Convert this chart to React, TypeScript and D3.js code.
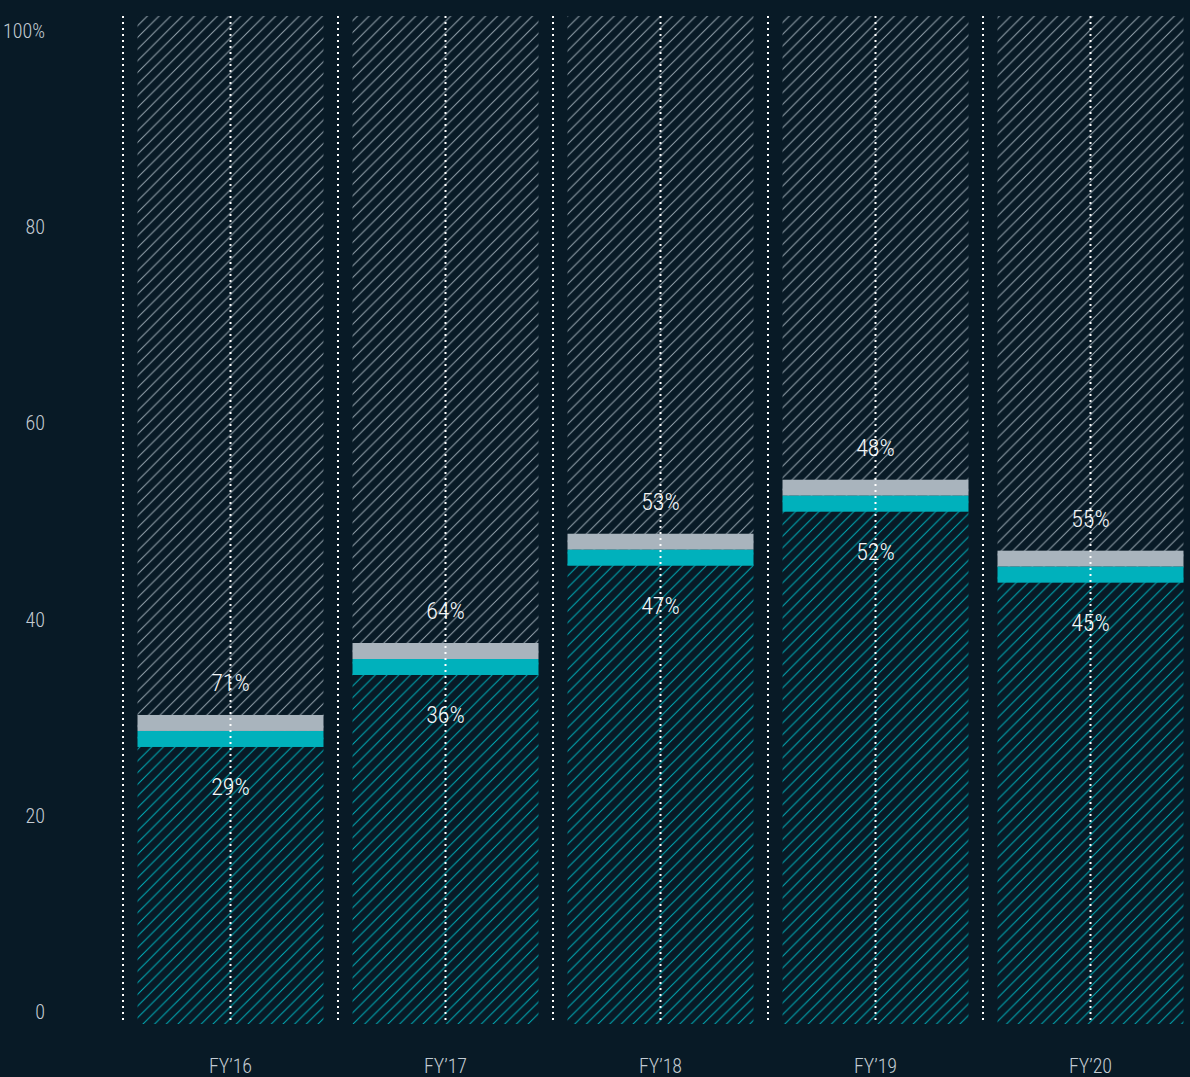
import { useEffect, useRef } from 'react';
import * as d3 from 'd3';

// Share of total per fiscal year; teal = lower part, grey = the rest
const years = ["FY’16", "FY’17", "FY’18", "FY’19", "FY’20"];
const tealShare = [29.07, 36.21, 47.05, 52.41, 45.37];
const yTicks = [0, 20, 40, 60, 80, 100];

const WIDTH = 1190;
const HEIGHT = 1077;
const FONT = '"Roboto Condensed", "Liberation Sans Narrow", "DejaVu Sans Condensed", "Open Sans", sans-serif';

export default function App() {
  const svgRef = useRef<SVGSVGElement>(null);

  useEffect(() => {
    if (!svgRef.current) return;
    document.body.style.margin = '0';
    document.body.style.background = '#081a26';

    d3.select(svgRef.current).selectAll('*').remove();

    const svg = d3.select(svgRef.current).attr('width', WIDTH).attr('height', HEIGHT);

    const data = years.map((year, i) => ({
      year,
      teal: tealShare[i],
      grey: 100 - tealShare[i]
    }));

    // Scales
    const xScale = d3
      .scaleBand<string>()
      .domain(years)
      .range([123, 1198])
      .paddingInner(0.135)
      .paddingOuter(0.0675);

    const yScale = d3.scaleLinear().domain([0, 100]).range([1024, 16]);
    // tick labels sit slightly inside the plot in the original
    const yLabelScale = d3.scaleLinear().domain([0, 100]).range([1012, 31]);

    const step = xScale.step();
    const gap = (step - xScale.bandwidth()) / 2;
    const bandH = 16;

    // background
    svg.append('rect').attr('width', WIDTH).attr('height', HEIGHT).attr('fill', '#081a26');

    // hatch patterns
    const defs = svg.append('defs');
    const s = 11.67;
    const addHatch = (id: string, color: string) => {
      const p = defs
        .append('pattern')
        .attr('id', id)
        .attr('patternUnits', 'userSpaceOnUse')
        .attr('width', s)
        .attr('height', s);
      p.append('path')
        .attr('d', `M-2,2 L2,-2 M0,${s} L${s},0 M${s - 2},${s + 2} L${s + 2},${s - 2}`)
        .attr('stroke', color)
        .attr('stroke-width', 1)
        .attr('fill', 'none');
    };
    addHatch('hatchGrey', '#95a4ae');
    addHatch('hatchTeal', '#00adb8');

    const bars = svg
      .selectAll('.bar')
      .data(data)
      .enter()
      .append('g')
      .attr('class', 'bar');

    // upper hatched part (grey)
    bars
      .append('rect')
      .attr('x', d => xScale(d.year)!)
      .attr('width', xScale.bandwidth())
      .attr('y', yScale(100))
      .attr('height', d => yScale(d.teal) - yScale(100))
      .attr('fill', 'url(#hatchGrey)');

    // lower hatched part (teal)
    bars
      .append('rect')
      .attr('x', d => xScale(d.year)!)
      .attr('width', xScale.bandwidth())
      .attr('y', d => yScale(d.teal))
      .attr('height', d => yScale(0) - yScale(d.teal))
      .attr('fill', 'url(#hatchTeal)');

    // dotted separators and centre lines
    const dotted = (x: number) =>
      svg
        .append('line')
        .attr('x1', x)
        .attr('x2', x)
        .attr('y1', yScale(100))
        .attr('y2', yScale(0))
        .attr('stroke', '#ffffff')
        .attr('stroke-width', 2)
        .attr('stroke-dasharray', '2,4');

    years.forEach(y => {
      dotted(xScale(y)! - gap);
      dotted(xScale(y)! + xScale.bandwidth() / 2);
    });

    // value labels
    bars
      .append('text')
      .attr('x', d => xScale(d.year)! + xScale.bandwidth() / 2)
      .attr('y', d => yScale(d.teal) - bandH - 32)
      .attr('text-anchor', 'middle')
      .attr('dominant-baseline', 'central')
      .attr('fill', '#f3f6f8')
      .style('font-family', FONT)
      .style('font-weight', 300)
      .style('font-size', '24px')
      .text(d => `${Math.round(d.grey)}%`);

    bars
      .append('text')
      .attr('x', d => xScale(d.year)! + xScale.bandwidth() / 2)
      .attr('y', d => yScale(d.teal) + bandH + 40)
      .attr('text-anchor', 'middle')
      .attr('dominant-baseline', 'central')
      .attr('fill', '#f3f6f8')
      .style('font-family', FONT)
      .style('font-weight', 300)
      .style('font-size', '24px')
      .text(d => `${Math.round(d.teal)}%`);

    // solid bands at the split
    bars
      .append('rect')
      .attr('x', d => xScale(d.year)!)
      .attr('width', xScale.bandwidth())
      .attr('y', d => yScale(d.teal) - bandH)
      .attr('height', bandH)
      .attr('fill', '#a9b4bd');

    bars
      .append('rect')
      .attr('x', d => xScale(d.year)!)
      .attr('width', xScale.bandwidth())
      .attr('y', d => yScale(d.teal))
      .attr('height', bandH)
      .attr('fill', '#00b1bc');

    // y axis labels
    svg
      .selectAll('.y-label')
      .data(yTicks)
      .enter()
      .append('text')
      .attr('class', 'y-label')
      .attr('x', 45)
      .attr('y', d => yLabelScale(d))
      .attr('text-anchor', 'end')
      .attr('dominant-baseline', 'central')
      .attr('fill', '#c3cbd2')
      .style('font-family', FONT)
      .style('font-weight', 300)
      .style('font-size', '20px')
      .text(d => (d === 100 ? '100%' : `${d}`));

    // x axis labels
    svg
      .selectAll('.x-label')
      .data(years)
      .enter()
      .append('text')
      .attr('class', 'x-label')
      .attr('x', d => xScale(d)! + xScale.bandwidth() / 2)
      .attr('y', 1066)
      .attr('text-anchor', 'middle')
      .attr('dominant-baseline', 'central')
      .attr('fill', '#c3cbd2')
      .style('font-family', FONT)
      .style('font-weight', 300)
      .style('font-size', '20px')
      .text(d => d);
  }, []);

  return (
    <div style={{ width: WIDTH, height: HEIGHT, overflow: 'hidden' }}>
      <svg ref={svgRef} style={{ display: 'block' }}></svg>
    </div>
  );
}
